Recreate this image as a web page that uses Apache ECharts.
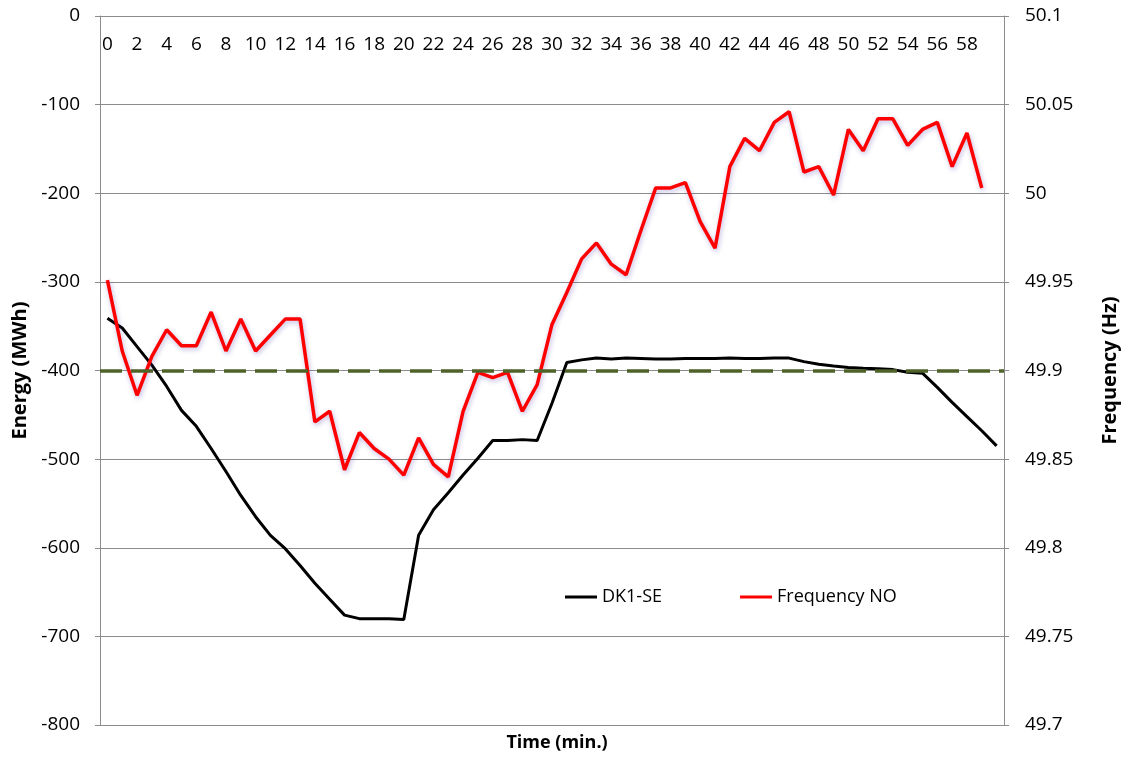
<!DOCTYPE html>
<html>
<head>
<meta charset="utf-8">
<script src="https://cdn.jsdelivr.net/npm/echarts@6/dist/echarts.min.js"></script>
<style>
  html, body { margin: 0; padding: 0; background: #fff; }
  #main { width: 1128px; height: 758px; }
</style>
</head>
<body>
<div id="main"></div>
<script>
var myChart = echarts.init(document.getElementById("main"));

// minutes 0..60
const minutes = [];
for (let i = 0; i <= 60; i++) minutes.push(String(i));

const dk1se = [
  -341, -352, -373, -394, -418, -445, -463, -488, -514, -541,
  -565, -586, -601, -620, -640, -658, -676, -680, -680, -680,
  -681, -586, -557, -538, -518, -499, -479, -479, -478, -479,
  -437, -391, -388, -386, -387, -386, -386.5, -387, -387, -386.5,
  -386.5, -386.5, -386, -386.5, -386.5, -386, -386, -390, -393, -395,
  -396.5, -397.5, -398, -399, -402, -403, -419, -436, -452, -468,
  -485,
];

const freqNO = [
  49.951, 49.911, 49.886, 49.908, 49.923, 49.914, 49.914, 49.933, 49.911, 49.929,
  49.911, 49.92, 49.929, 49.929, 49.871, 49.877, 49.844, 49.865, 49.856, 49.85,
  49.841, 49.862, 49.847, 49.84, 49.877, 49.899, 49.896, 49.899, 49.877, 49.892,
  49.926, 49.944, 49.963, 49.972, 49.96, 49.954, 49.979, 50.003, 50.003, 50.006,
  49.984, 49.969, 50.015, 50.031, 50.024, 50.04, 50.046, 50.012, 50.015, 49.999,
  50.036, 50.024, 50.042, 50.042, 50.027, 50.036, 50.04, 50.015, 50.034, 50.003,
];

const threshold = -400;

const axisGray = "#8c8c8c";
const font = "Open Sans";

option = {
  animation: false,
  textStyle: { fontFamily: font },
  grid: { left: 100, right: 124, top: 16, bottom: 33 },
  title: {
    text: "Time (min.)",
    left: 552,
    top: 729,
    textAlign: "center",
    textStyle: { fontFamily: font, fontSize: 18, fontWeight: "bold", color: "#000" },
  },
  legend: {
    left: 560,
    top: 583,
    icon: "rect",
    itemWidth: 32,
    itemHeight: 3,
    itemGap: 78,
    textStyle: { fontFamily: font, fontSize: 18, color: "#000" },
    data: ["DK1-SE", "Frequency NO"],
  },
  xAxis: {
    type: "category",
    position: "top",
    data: minutes,
    boundaryGap: true,
    axisLine: { lineStyle: { color: axisGray, width: 1 } },
    axisTick: { inside: true, length: 5, interval: 0, lineStyle: { color: axisGray } },
    axisLabel: {
      inside: true,
      margin: 19,
      fontSize: 19,
      color: "#000",
      interval: function (idx) {
        return idx % 2 === 0 && idx < 60;
      },
    },
    splitLine: { show: false },
  },
  yAxis: [
    {
      type: "value",
      min: -800,
      max: 0,
      interval: 100,
      name: "Energy (MWh)",
      nameLocation: "middle",
      nameRotate: 90,
      nameGap: 70,
      nameTextStyle: { fontSize: 20, fontWeight: "bold", color: "#000" },
      axisLine: { show: true, lineStyle: { color: axisGray } },
      axisTick: { show: true, length: 5, lineStyle: { color: axisGray } },
      axisLabel: { fontSize: 19, color: "#000", margin: 20 },
      splitLine: { lineStyle: { color: axisGray, width: 1 } },
    },
    {
      type: "value",
      min: 49.7,
      max: 50.1,
      interval: 0.05,
      position: "right",
      name: "Frequency (Hz)",
      nameLocation: "middle",
      nameRotate: 90,
      nameGap: 96,
      nameTextStyle: { fontSize: 20, fontWeight: "bold", color: "#000" },
      axisLine: { show: true, lineStyle: { color: axisGray } },
      axisTick: { show: true, length: 5, lineStyle: { color: axisGray } },
      axisLabel: {
        fontSize: 19,
        color: "#000",
        margin: 21,
        formatter: function (v) {
          return String(parseFloat(v.toFixed(2)));
        },
      },
      splitLine: { show: false },
    },
  ],
  series: [
    {
      name: "DK1-SE",
      type: "line",
      data: dk1se,
      yAxisIndex: 0,
      symbol: "none",
      color: "#000000",
      lineStyle: { color: "#000000", width: 3 },
      markLine: {
        silent: true,
        symbol: "none",
        label: { show: false },
        lineStyle: { color: "#4f6228", width: 3.5, type: [22, 9] },
        data: [{ yAxis: threshold }],
      },
    },
    {
      name: "Frequency NO",
      type: "line",
      data: freqNO,
      yAxisIndex: 1,
      symbol: "none",
      color: "#ff0000",
      lineStyle: {
        color: "#ff0000",
        width: 3.5,
        shadowColor: "rgba(70,50,170,0.35)",
        shadowBlur: 5,
        shadowOffsetX: 1,
        shadowOffsetY: 2,
      },
    },
  ],
};
myChart.setOption(option);
</script>
</body>
</html>
